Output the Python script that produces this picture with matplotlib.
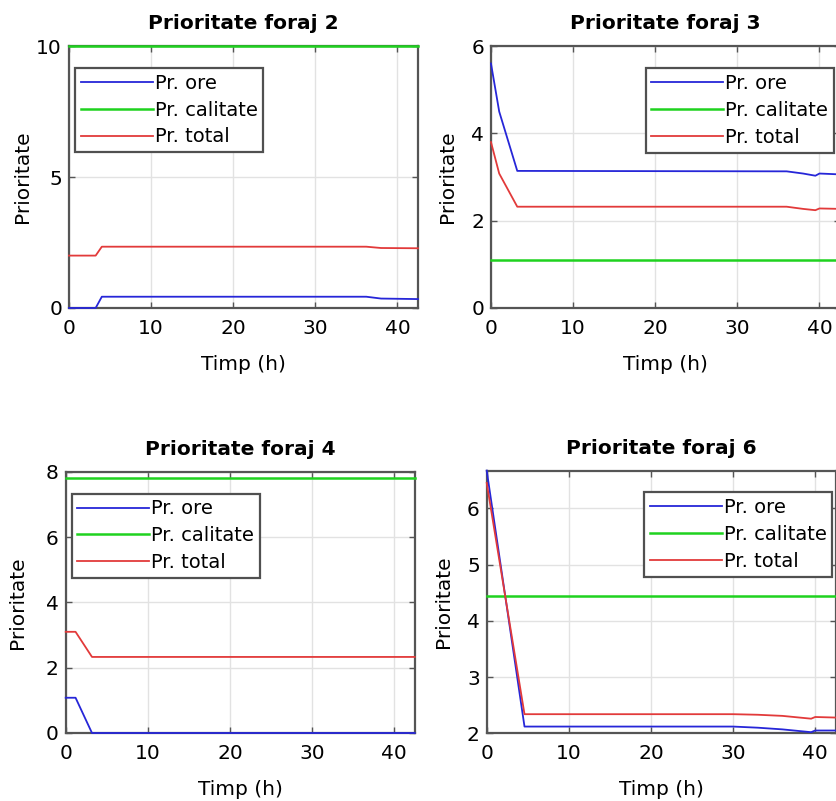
import matplotlib
matplotlib.use('Agg')
import matplotlib.pyplot as plt

plt.rcParams['font.family'] = ['DejaVu Sans']

# timpul si prioritatile (puncte de frangere)
t2 = [0, 3.25, 4.0, 36.2, 38.0, 42.5]
ore2 = [0.0, 0.0, 0.43, 0.43, 0.36, 0.34]
tot2 = [2.0, 2.0, 2.34, 2.34, 2.29, 2.28]
cal2 = 10.0

t3 = [0, 1.0, 3.2, 36.0, 38.0, 39.5, 40.0, 42.5]
ore3 = [5.6, 4.5, 3.14, 3.13, 3.08, 3.03, 3.08, 3.06]
tot3 = [3.8, 3.08, 2.32, 2.32, 2.27, 2.24, 2.28, 2.27]
cal3 = 1.1

t4 = [0, 1.2, 3.2, 42.5]
ore4 = [1.08, 1.08, 0.0, 0.0]
tot4 = [3.1, 3.1, 2.33, 2.33]
cal4 = 7.8

t6 = [0, 4.6, 30.0, 33.0, 36.0, 39.5, 40.0, 42.5]
ore6 = [6.67, 2.12, 2.12, 2.1, 2.07, 2.02, 2.05, 2.05]
tot6 = [6.45, 2.34, 2.34, 2.33, 2.31, 2.26, 2.29, 2.28]
cal6 = 4.44

titluri = ['Prioritate foraj 2', 'Prioritate foraj 3', 'Prioritate foraj 4', 'Prioritate foraj 6']
ylims = [(0, 10), (0, 6), (0, 8), (2, 6.67)]
yticks = [[0, 5, 10], [0, 2, 4, 6], [0, 2, 4, 6, 8], [2, 3, 4, 5, 6]]

# pozitii axe (ultima coloana iese putin din imagine, ca in original)
pozitii = [
    [0.0824, 0.6155, 0.417, 0.327],
    [0.5866, 0.6155, 0.417, 0.327],
    [0.0785, 0.0849, 0.417, 0.326],
    [0.5815, 0.0845, 0.417, 0.328],
]
# colt legenda (coordonate axe)
leg_loc = ['upper left', 'upper right', 'upper left', 'upper right']
leg_anc = [(0.017, 0.916), (0.983, 0.915), (0.017, 0.917), (0.99, 0.917)]
# pozitia etichetei y
ylab_x = [-0.106, -0.098, -0.110, -0.096]

date = [(t2, ore2, tot2, cal2), (t3, ore3, tot3, cal3),
        (t4, ore4, tot4, cal4), (t6, ore6, tot6, cal6)]

fig = plt.figure(figsize=(8.37, 8.01), dpi=100)

for i in range(4):
    ax = fig.add_axes(pozitii[i])
    t, ore, tot, cal = date[i]
    ax.plot(t, ore, color='#2626d8', lw=1.3, label='Pr. ore', clip_on=False, zorder=5)
    ax.plot([0, 42.5], [cal, cal], color='#1fd21f', lw=1.8, label='Pr. calitate',
            clip_on=False, zorder=5)
    ax.plot(t, tot, color='#e23a3a', lw=1.3, label='Pr. total', clip_on=False, zorder=5)
    ax.set_xlim(0, 42.5)
    ax.set_ylim(*ylims[i])
    ax.set_xticks([0, 10, 20, 30, 40])
    ax.set_yticks(yticks[i])
    ax.grid(True, color='#e2e2e2', lw=1.0)
    ax.set_axisbelow(True)
    for s in ax.spines.values():
        s.set_color('#555555')
        s.set_linewidth(1.6)
    ax.tick_params(direction='in', length=4, width=1, colors='#555555',
                   labelcolor='black', labelsize=14.5, top=True, right=True)
    ax.tick_params(axis='x', pad=8)
    ax.tick_params(axis='y', pad=5)
    ax.set_title(titluri[i], fontsize=14.5, fontweight='bold', pad=12)
    ax.set_xlabel('Timp (h)', fontsize=14.5, labelpad=12)
    ax.set_ylabel('Prioritate', fontsize=14.5)
    ax.yaxis.set_label_coords(ylab_x[i], 0.5)
    leg = ax.legend(loc=leg_loc[i], bbox_to_anchor=leg_anc[i], fontsize=14,
                    fancybox=False, handlelength=3.7, handletextpad=0.1,
                    labelspacing=0.4, borderpad=0.3, borderaxespad=0,
                    framealpha=1)
    leg.get_frame().set_edgecolor('#505050')
    leg.get_frame().set_linewidth(1.6)
    leg.set_zorder(10)

fig.savefig('out.png', dpi=100)
